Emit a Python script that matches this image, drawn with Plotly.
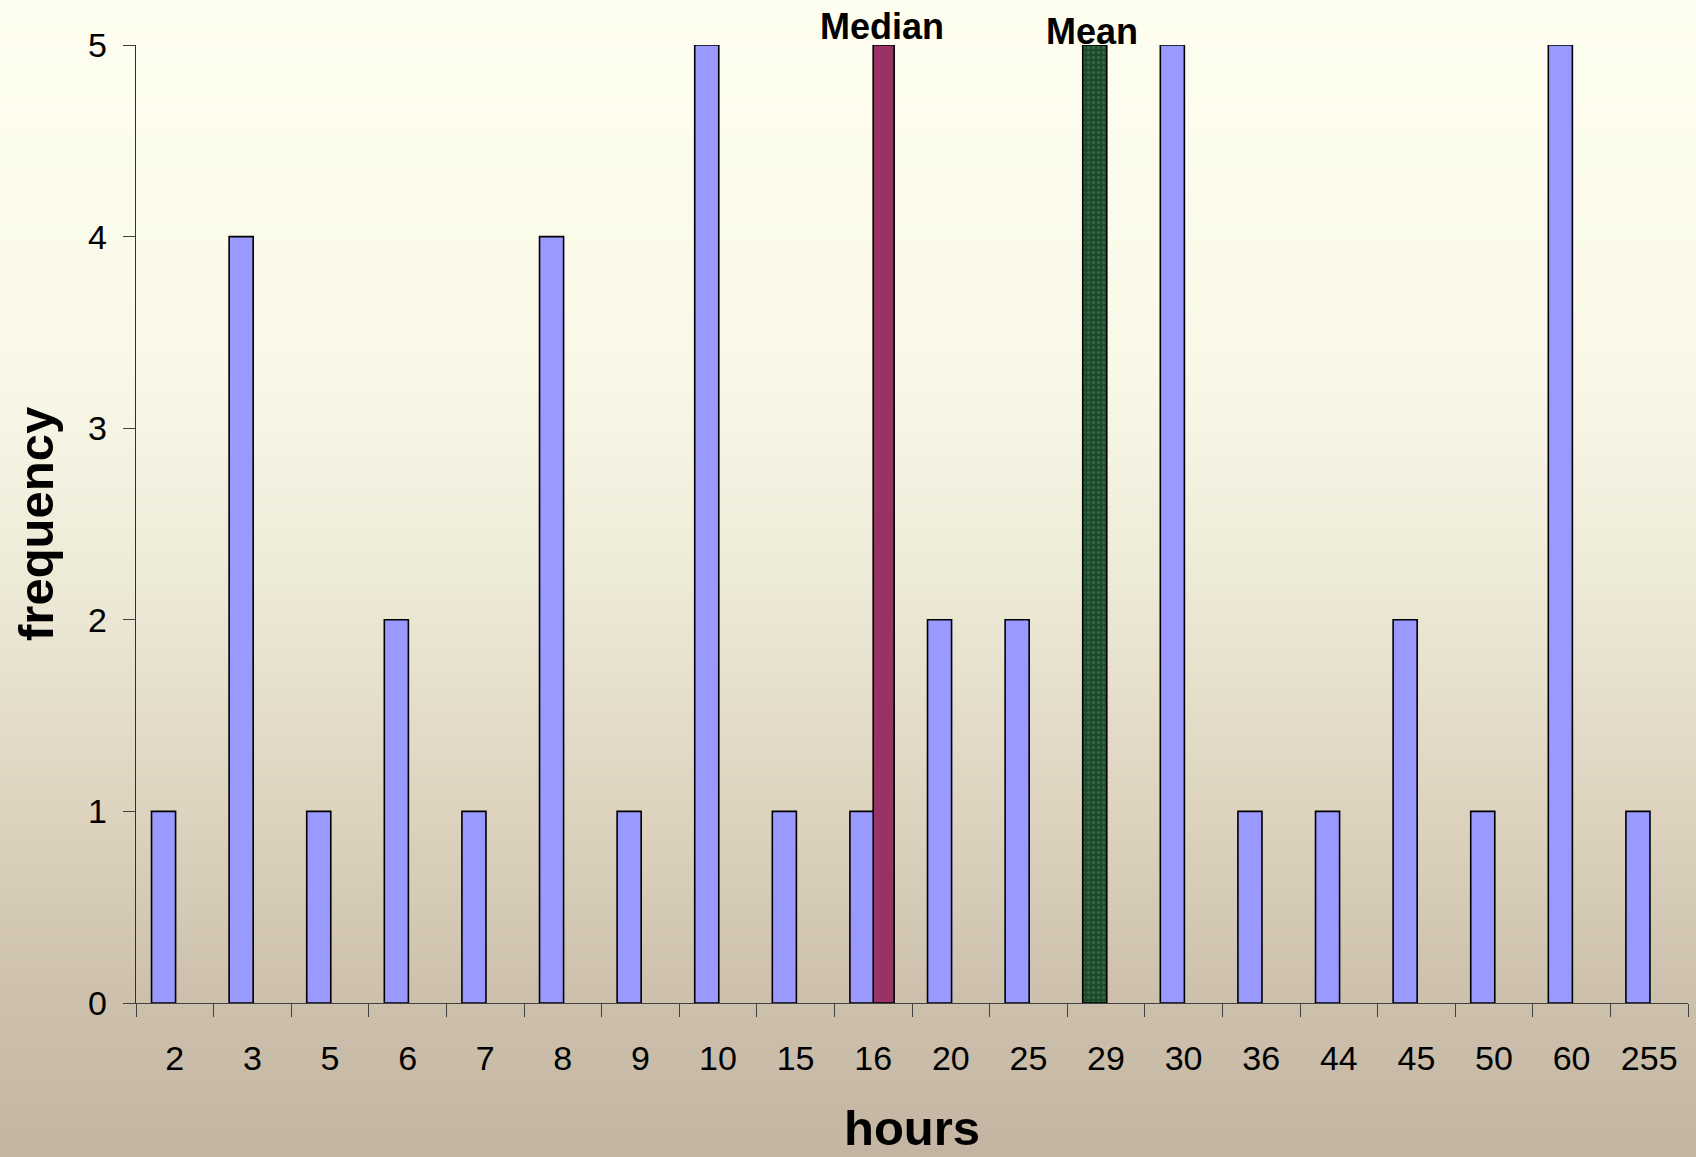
import plotly.graph_objects as go

# Frequency of reported hours
hours = ["2", "3", "5", "6", "7", "8", "9", "10", "15", "16",
         "20", "25", "29", "30", "36", "44", "45", "50", "60", "255"]
frequency = [1, 4, 1, 2, 1, 4, 1, 5, 1, 1,
             2, 2, 0, 5, 1, 1, 2, 1, 5, 1]

# Marker bars for the centre statistics
median_hours = ["16"]
mean_hours = ["29"]
marker_height = [5]

y_ticks = [0, 1, 2, 3, 4, 5]

W, H = 1696, 1157
L, R, T, B = 136, 8, 45, 154

fig = go.Figure()

fig.add_trace(go.Bar(
    x=hours, y=frequency, name="frequency",
    offset=-0.30, width=0.31,
    marker=dict(color="#9999FF", line=dict(color="#000000", width=1.6)),
))
fig.add_trace(go.Bar(
    x=median_hours, y=marker_height, name="Median",
    offset=0.0, width=0.27,
    marker=dict(color="#993366", line=dict(color="#000000", width=1.6)),
))
fig.add_trace(go.Bar(
    x=mean_hours, y=marker_height, name="Mean",
    offset=-0.30, width=0.31,
    marker=dict(color="#1C4A2A", line=dict(color="#000000", width=1.6),
                pattern=dict(shape=".", fgcolor="#4E8A60", bgcolor="#1C4A2A",
                             size=5, solidity=0.3)),
))

# Vertical background gradient (cream at top to tan at bottom)
stops = [(0.0, (254, 254, 240)), (0.30, (250, 249, 232)), (0.50, (238, 234, 216)),
         (0.70, (221, 211, 191)), (0.86, (205, 193, 173)), (1.0, (195, 181, 162))]


def color_at(f):
    for (f0, c0), (f1, c1) in zip(stops[:-1], stops[1:]):
        if f0 <= f <= f1:
            t = (f - f0) / (f1 - f0)
            return "rgb(%d,%d,%d)" % tuple(round(a + (b - a) * t) for a, b in zip(c0, c1))
    return "rgb(%d,%d,%d)" % stops[-1][1]


pw, ph = W - L - R, H - T - B
n_bands = 160
shapes = []
for i in range(n_bands):
    top_px = H * i / n_bands
    bot_px = H * (i + 1) / n_bands + 1
    y1 = 1 - (top_px - T) / ph
    y0 = 1 - (bot_px - T) / ph
    shapes.append(dict(type="rect", xref="paper", yref="paper",
                       x0=-L / pw - 0.01, x1=1 + R / pw + 0.01, y0=y0, y1=y1,
                       fillcolor=color_at((i + 0.5) / n_bands), line=dict(width=0),
                       layer="below"))

tick_font = dict(family="Liberation Sans, Arial, sans-serif", size=34, color="#000000")
bold_font = "Liberation Sans, Arial, sans-serif"

# category positions for the statistic labels
median_idx = hours.index(median_hours[0])
mean_idx = hours.index(mean_hours[0])

fig.update_layout(
    width=W, height=H,
    margin=dict(l=L, r=R, t=T, b=B, autoexpand=False),
    paper_bgcolor="#FEFEF0",
    plot_bgcolor="rgba(0,0,0,0)",
    barmode="overlay",
    showlegend=False,
    shapes=shapes,
    xaxis=dict(
        type="category", categoryorder="array", categoryarray=hours,
        range=[-0.5, len(hours) - 0.5],
        showgrid=False, zeroline=False,
        showline=True, linecolor="#404040", linewidth=1.4,
        ticks="outside", tickson="boundaries", ticklen=13, tickwidth=1.3,
        tickcolor="#404040", tickfont=tick_font, ticklabelstandoff=25,
    ),
    yaxis=dict(
        range=[0, 5], tickvals=y_ticks,
        showgrid=False, zeroline=False,
        showline=True, linecolor="#303030", linewidth=1.4,
        ticks="outside", ticklen=12, tickwidth=1.3, tickcolor="#404040",
        tickfont=tick_font, ticklabelstandoff=9,
    ),
    annotations=[
        dict(text="<b>Median</b>", x=median_idx, y=marker_height[0],
             xref="x", yref="y", xanchor="center", yanchor="bottom",
             xshift=9, yshift=-4, showarrow=False,
             font=dict(family=bold_font, size=36, color="#000000")),
        dict(text="<b>Mean</b>", x=mean_idx, y=marker_height[0],
             xref="x", yref="y", xanchor="center", yanchor="bottom",
             xshift=-14, yshift=-9, showarrow=False,
             font=dict(family=bold_font, size=36, color="#000000")),
        dict(text="<b>hours</b>", x=0.5, y=-B / ph,
             xref="paper", yref="paper", xanchor="center", yanchor="bottom",
             showarrow=False,
             font=dict(family=bold_font, size=49, color="#000000")),
        dict(text="<b>frequency</b>", x=-(L - 36) / pw, y=0.5,
             xref="paper", yref="paper", xanchor="center", yanchor="middle",
             textangle=-90, showarrow=False,
             font=dict(family=bold_font, size=49, color="#000000")),
    ],
)

fig.write_html("out.html")
